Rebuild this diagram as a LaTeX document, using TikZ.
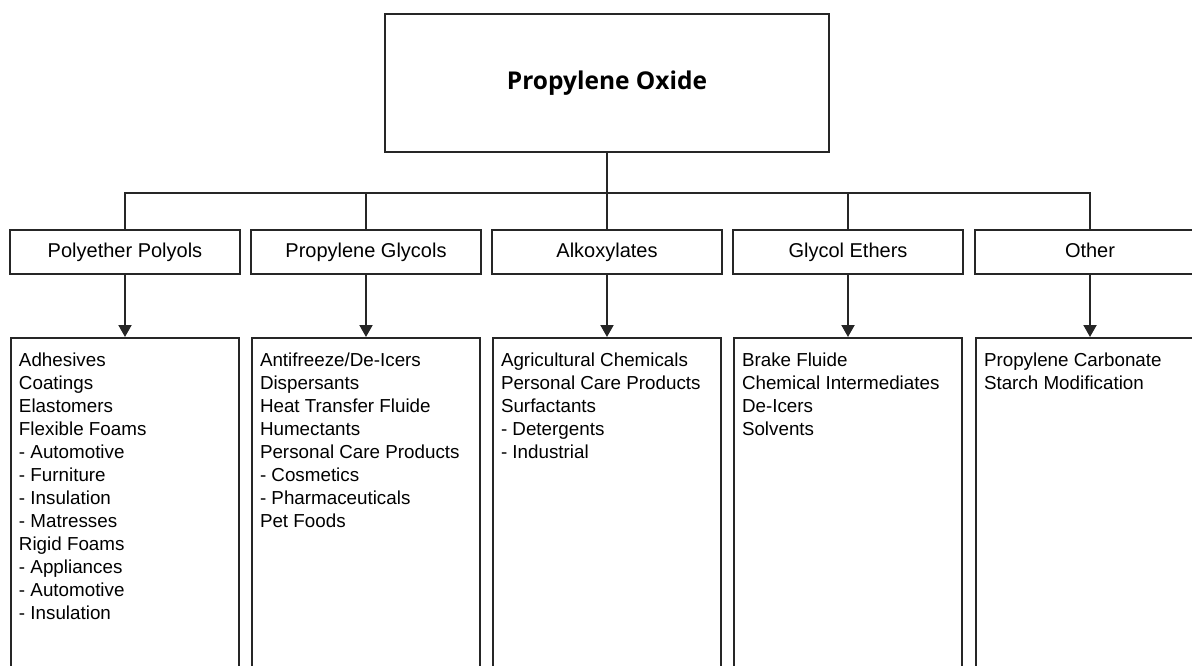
\documentclass[tikz,border=0pt]{standalone}
\usepackage{fontspec}
\setmainfont{Liberation Sans}
\newfontfamily\titlefont{Open Sans}
\usetikzlibrary{arrows.meta}
\begin{document}
\begin{tikzpicture}[x=1pt,y=-1pt,
  line width=2pt, draw=black!85,
  catbox/.style={draw, minimum width=230pt, minimum height=44pt, inner sep=0pt, text height=14.5pt, text depth=4.5pt, font=\fontsize{20}{24}\selectfont},
  listbox/.style={draw, minimum width=228pt, minimum height=360pt, inner sep=0pt},
  listtext/.style={anchor=north west, align=left, inner sep=0pt, font=\fontsize{18.8}{23}\selectfont},
  conn/.style={line width=2pt},
  arr/.style={line width=2pt, -{Triangle[length=12pt,width=13pt]}}]
\useasboundingbox (0,0) rectangle (1192,666);
\begin{scope}
\clip (0,0) rectangle (1192,666);
\node[draw, minimum width=444pt, minimum height=138pt, inner sep=0pt, font=\titlefont\bfseries\fontsize{24.5}{28}\selectfont] (po) at (607,83) {Propylene Oxide};

\node[catbox] (c1) at (125,252) {Polyether Polyols};
\node[catbox] (c2) at (366,252) {Propylene Glycols};
\node[catbox] (c3) at (607,252) {Alkoxylates};
\node[catbox] (c4) at (848,252) {Glycol Ethers};
\node[catbox] (c5) at (1090,252) {Other};

\node[listbox] (l1) at (125,518) {};
\node[listbox] (l2) at (366,518) {};
\node[listbox] (l3) at (607,518) {};
\node[listbox] (l4) at (848,518) {};
\node[listbox] (l5) at (1090,518) {};

\coordinate (bus) at (607,193);
\draw[conn] (po.south) -- (bus);
\draw[conn] (c1.north) |- (bus) -| (c5.north);
\draw[conn] (c2.north) -- (c2.north |- bus);
\draw[conn] (c3.north) -- (c3.north |- bus);
\draw[conn] (c4.north) -- (c4.north |- bus);

\foreach \i in {1,...,5}{\draw[arr] (c\i.south) -- (l\i.north);}

\node[listtext] (t1) at ([shift={(8,15)}]l1.north west) {Adhesives\\Coatings\\Elastomers\\Flexible Foams\\- Automotive\\- Furniture\\- Insulation\\- Matresses\\Rigid Foams\\- Appliances\\- Automotive\\- Insulation};
\node[listtext] (t2) at ([shift={(8,15)}]l2.north west) {Antifreeze/De-Icers\\Dispersants\\Heat Transfer Fluide\\Humectants\\Personal Care Products\\- Cosmetics\\- Pharmaceuticals\\Pet Foods};
\node[listtext] (t3) at ([shift={(8,15)}]l3.north west) {Agricultural Chemicals\\Personal Care Products\\Surfactants\\- Detergents\\- Industrial};
\node[listtext] (t4) at ([shift={(8,15)}]l4.north west) {Brake Fluide\\Chemical Intermediates\\De-Icers\\Solvents};
\node[listtext] (t5) at ([shift={(8,15)}]l5.north west) {Propylene Carbonate\\Starch Modification};
\end{scope}
\end{tikzpicture}
\end{document}
